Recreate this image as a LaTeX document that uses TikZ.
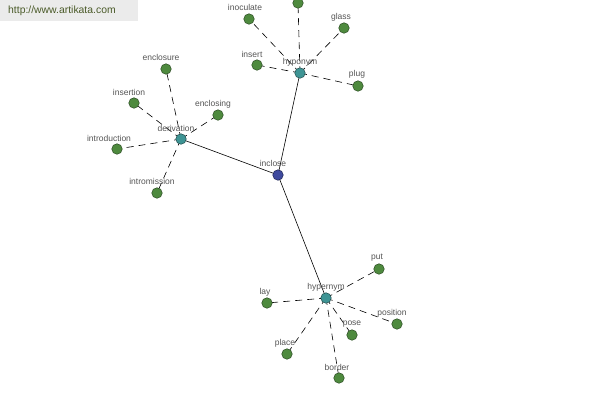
\documentclass[tikz,border=0pt]{standalone}
\usepackage{fontspec}
\setmainfont{Liberation Sans}
\definecolor{leafc}{HTML}{4E8A3E}
\definecolor{leafd}{HTML}{2A4A22}
\definecolor{hubc}{HTML}{3E9494}
\definecolor{hubd}{HTML}{1F4A4A}
\definecolor{rootc}{HTML}{3F4A9E}
\definecolor{rootd}{HTML}{1C2250}
\definecolor{labc}{HTML}{555555}
\definecolor{wmbg}{HTML}{EBEBEB}
\definecolor{wmtx}{HTML}{4A5A28}
\tikzset{
  leaf/.style={circle,fill=leafc,draw=leafd,line width=0.5pt,minimum size=10.5pt,inner sep=0pt},
  hub/.style={circle,fill=hubc,draw=hubd,line width=0.5pt,minimum size=10.5pt,inner sep=0pt},
  rootn/.style={circle,fill=rootc,draw=rootd,line width=0.5pt,minimum size=10.5pt,inner sep=0pt},
  lab/.style={font=\fontsize{8.5pt}{9pt}\selectfont,text=labc,inner sep=0pt},
  solidedge/.style={draw=black,line width=0.6pt},
  dashedge/.style={draw=black,line width=0.6pt,dash pattern=on 7pt off 5pt},
}
\begin{document}
\begin{tikzpicture}[x=1pt,y=-1pt]
\useasboundingbox[fill=white] (0,0) rectangle (600,400);
% watermark
\fill[wmbg] (0,0) rectangle (138,21);
\node[font=\fontsize{10.4pt}{11pt}\selectfont,text=wmtx,anchor=west,inner sep=0pt] (wm) at (8,11) {http://www.artikata.com};
% coordinates
\coordinate (inclose) at (278,175);
\coordinate (derivation) at (181,139);
\coordinate (hyponym) at (300,73);
\coordinate (hypernym) at (326,298);
\coordinate (inoculate) at (249,19);
\coordinate (topleaf) at (298,3);
\coordinate (glass) at (344,28);
\coordinate (insert) at (257,65);
\coordinate (plug) at (358,86);
\coordinate (enclosure) at (166,69);
\coordinate (insertion) at (134,103);
\coordinate (enclosing) at (218,115);
\coordinate (introduction) at (117,149);
\coordinate (intromission) at (157,193);
\coordinate (put) at (379,269);
\coordinate (lay) at (267,303);
\coordinate (position) at (397,324);
\coordinate (pose) at (352,335);
\coordinate (place) at (287,354);
\coordinate (border) at (339,378);
% edges
\draw[solidedge] (inclose) -- (derivation);
\draw[solidedge] (inclose) -- (hyponym);
\draw[solidedge] (inclose) -- (hypernym);
\foreach \l in {inoculate,topleaf,glass,insert,plug}
  \draw[dashedge] (hyponym) -- (\l);
\foreach \l in {enclosure,insertion,enclosing,introduction,intromission}
  \draw[dashedge] (derivation) -- (\l);
\foreach \l in {put,lay,position,pose,place,border}
  \draw[dashedge] (hypernym) -- (\l);
% nodes
\node[rootn] (n-inclose) at (inclose) {};
\node[hub] (n-derivation) at (derivation) {};
\node[hub] (n-hyponym) at (hyponym) {};
\node[hub] (n-hypernym) at (hypernym) {};
\foreach \l in {inoculate,topleaf,glass,insert,plug,enclosure,insertion,enclosing,introduction,intromission,put,lay,position,pose,place,border}
  \node[leaf] (n-\l) at (\l) {};
% labels
\node[lab] (t-inclose) at (273,163) {inclose};
\node[lab] (t-derivation) at (176,128) {derivation};
\node[lab] (t-hyponym) at (300,62) {hyponym};
\node[lab] (t-hypernym) at (326,287) {hypernym};
\node[lab] (t-inoculate) at (245,7) {inoculate};
\node[lab] (t-glass) at (341,17) {glass};
\node[lab] (t-insert) at (252,54) {insert};
\node[lab] (t-plug) at (357,74) {plug};
\node[lab] (t-enclosure) at (161,57) {enclosure};
\node[lab] (t-insertion) at (129,92) {insertion};
\node[lab] (t-enclosing) at (213,104) {enclosing};
\node[lab] (t-introduction) at (109,138) {introduction};
\node[lab] (t-intromission) at (152,181) {intromission};
\node[lab] (t-put) at (377,258) {put};
\node[lab] (t-lay) at (265,292) {lay};
\node[lab] (t-position) at (392,313) {position};
\node[lab] (t-pose) at (352,324) {pose};
\node[lab] (t-place) at (285,343) {place};
\node[lab] (t-border) at (337,367) {border};
\end{tikzpicture}
\end{document}
